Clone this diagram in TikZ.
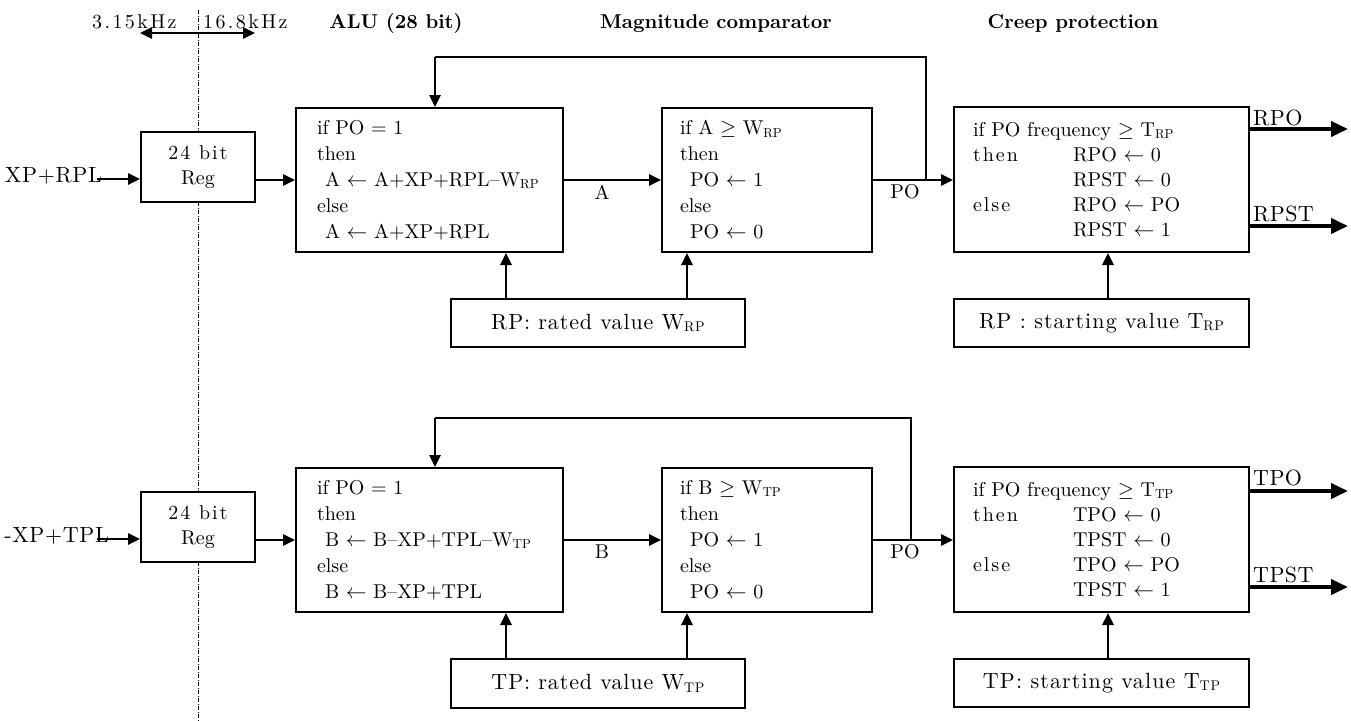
\documentclass[tikz,border=0pt]{standalone}
\usepackage{fontspec}
\setmainfont{lmroman10-regular}[Extension=.otf, BoldFont=lmroman10-bold]
\usetikzlibrary{arrows.meta,calc}
\newcommand{\sbs}[1]{\raisebox{-0.25ex}{\fontsize{13}{13}\selectfont #1}}
\newcommand{\sbb}[1]{\raisebox{-0.25ex}{\fontsize{14}{14}\selectfont\addfontfeature{LetterSpace=5}#1}}
\newcommand{\la}{$\leftarrow$}
\newcommand{\spc}[1]{{\addfontfeature{LetterSpace=10}#1}}
\begin{document}
\begin{tikzpicture}[x=1pt,y=-1pt,
  font=\fontsize{20}{26}\selectfont,
  box/.style={draw, line width=2pt, fill=white, inner sep=0pt, anchor=north west},
  arr/.style={line width=2.6pt, -{Triangle[length=12pt,width=11pt]}},
  outarr/.style={line width=4pt, -{Triangle[length=17pt,width=15pt]}},
  fb/.style={line width=1.8pt},
  lbl/.style={inner sep=0pt},
  wide/.style={font=\fontsize{20}{26}\selectfont\addfontfeature{LetterSpace=#1}},
  big/.style={font=\fontsize{22}{26}\selectfont\addfontfeature{LetterSpace=#1}},
  hdr/.style={inner sep=0pt, anchor=base, font=\fontsize{20}{26}\selectfont\bfseries}]
\useasboundingbox (0,0) rectangle (1351,720);

% clock boundary
\coordinate (dtop) at (198,10);
\coordinate (dbot) at (198,720);
\draw[line width=0.7pt, dash pattern=on 4pt off 1.5pt on 1pt off 1.5pt] (dtop) -- (dbot);

% headers
\node[lbl, anchor=base west, wide=12] (f1) at (92,28) {3.15kHz};
\node[lbl, anchor=base west, wide=12] (f2) at (203,28) {16.8kHz};
\coordinate (dA) at (140,33);
\coordinate (dB) at (255,33);
\draw[line width=2.6pt, {Triangle[length=12pt,width=11pt]}-{Triangle[length=12pt,width=11pt]}] (dA) -- (dB);
\node[hdr] (h1) at (396,28) {ALU (28 bit)};
\node[hdr] (h2) at (716,28) {Magnitude comparator};
\node[hdr] (h3) at (1073,28) {Creep protection};

% ================= top row =================
\node[box, minimum width=114, minimum height=70, align=center, font=\fontsize{20}{25}\selectfont] (regA) at (140,131) {\spc{24 bit}\\Reg};
\node[box, minimum width=267, minimum height=144, text width=225pt, inner xsep=21pt, align=left] (aluA) at (295,107)
 {if PO = 1\\then\\\hspace*{8pt}A \la\ A+XP+RPL--W\sbs{RP}\\else\\\hspace*{8pt}A \la\ A+XP+RPL};
\node[box, minimum width=210, minimum height=144, text width=174pt, inner xsep=18pt, align=left] (cmpA) at (661,107)
 {if A $\geq$ W\sbs{RP}\\then\\\hspace*{10pt}PO \la\ 1\\else\\\hspace*{10pt}PO \la\ 0};
\node[box, minimum width=295, minimum height=145, text width=257pt, inner xsep=19pt, align=left, font=\fontsize{20}{25}\selectfont] (crA) at (953,106)
 {if PO frequency $\geq$ T\sbs{RP}\\\makebox[100pt][l]{\spc{then}}RPO \la\ 0\\\makebox[100pt][l]{}RPST \la\ 0\\\makebox[100pt][l]{\spc{else}}RPO \la\ PO\\\makebox[100pt][l]{}RPST \la\ 1};
\node[box, minimum width=294, minimum height=48, big=4] (rtA) at (450,298) {RP: rated value W\sbb{RP}};
\node[box, minimum width=295, minimum height=48, big=5] (stA) at (953,298) {RP : starting value T\sbb{RP}};

\node[lbl, anchor=base east, big=3] (inlA) at (102,182) {XP+RPL};
\coordinate (inA) at (97,179);
\draw[arr] (inA) -- (inA -| regA.west);
\draw[arr] (regA.east |- aluA.west) -- (aluA.west);
\draw[arr] (aluA.east) -- (cmpA.west);
\node[lbl] (lA) at (602,192) {A};
\draw[arr] (cmpA.east) -- (cmpA.east -| crA.west);
\node[lbl] (lPOa) at (905,192) {PO};
\coordinate (fbA) at (926,179);
\coordinate (fcA) at (435,57);
\draw[fb] (fbA) |- (fcA);
\draw[arr] (fcA) -- (fcA |- aluA.north);
\coordinate (raA1) at (506,298);
\coordinate (raA2) at (687,298);
\draw[arr] (raA1 |- rtA.north) -- (raA1 |- aluA.south);
\draw[arr] (raA2 |- rtA.north) -- (raA2 |- cmpA.south);
\coordinate (saA) at (1108,298);
\draw[arr] (saA |- stA.north) -- (saA |- crA.south);
\coordinate (oA1) at ($(crA.north east)+(0,23)$);
\coordinate (oA2) at ($(crA.north east)+(0,120)$);
\draw[outarr] (oA1) -- ++(98,0);
\draw[outarr] (oA2) -- ++(98,0);
\node[lbl, anchor=base west, big=2] (lRPO) at (1253,125) {RPO};
\node[lbl, anchor=base west, big=2] (lRPST) at (1253,221) {RPST};

% ================= bottom row =================
\node[box, minimum width=114, minimum height=70, align=center, font=\fontsize{20}{25}\selectfont] (regB) at (140,491) {\spc{24 bit}\\Reg};
\node[box, minimum width=267, minimum height=144, text width=225pt, inner xsep=21pt, align=left] (aluB) at (295,467)
 {if PO = 1\\then\\\hspace*{8pt}B \la\ B--XP+TPL--W\sbs{TP}\\else\\\hspace*{8pt}B \la\ B--XP+TPL};
\node[box, minimum width=210, minimum height=144, text width=174pt, inner xsep=18pt, align=left] (cmpB) at (661,467)
 {if B $\geq$ W\sbs{TP}\\then\\\hspace*{10pt}PO \la\ 1\\else\\\hspace*{10pt}PO \la\ 0};
\node[box, minimum width=295, minimum height=145, text width=257pt, inner xsep=19pt, align=left, font=\fontsize{20}{25}\selectfont] (crB) at (953,466)
 {if PO frequency $\geq$ T\sbs{TP}\\\makebox[100pt][l]{\spc{then}}TPO \la\ 0\\\makebox[100pt][l]{}TPST \la\ 0\\\makebox[100pt][l]{\spc{else}}TPO \la\ PO\\\makebox[100pt][l]{}TPST \la\ 1};
\node[box, minimum width=294, minimum height=49, big=4] (rtB) at (450,658) {TP: rated value W\sbb{TP}};
\node[box, minimum width=295, minimum height=48, big=5] (stB) at (953,658) {TP: starting value T\sbb{TP}};

\node[lbl, anchor=base east, big=3] (inlB) at (109,542) {-XP+TPL};
\coordinate (inB) at (97,539);
\draw[arr] (inB) -- (inB -| regB.west);
\draw[arr] (regB.east |- aluB.west) -- (aluB.west);
\draw[arr] (aluB.east) -- (cmpB.west);
\node[lbl] (lB) at (602,552) {B};
\draw[arr] (cmpB.east) -- (cmpB.east -| crB.west);
\node[lbl] (lPOb) at (905,552) {PO};
\coordinate (fbB) at (911,539);
\coordinate (fcB) at (435,418);
\draw[fb] (fbB) |- (fcB);
\draw[arr] (fcB) -- (fcB |- aluB.north);
\coordinate (raB1) at (506,658);
\coordinate (raB2) at (687,658);
\draw[arr] (raB1 |- rtB.north) -- (raB1 |- aluB.south);
\draw[arr] (raB2 |- rtB.north) -- (raB2 |- cmpB.south);
\coordinate (saB) at (1108,658);
\draw[arr] (saB |- stB.north) -- (saB |- crB.south);
\coordinate (oB1) at ($(crB.north east)+(0,25)$);
\coordinate (oB2) at ($(crB.north east)+(0,121)$);
\draw[outarr] (oB1) -- ++(98,0);
\draw[outarr] (oB2) -- ++(98,0);
\node[lbl, anchor=base west, big=2] (lTPO) at (1253,485) {TPO};
\node[lbl, anchor=base west, big=2] (lTPST) at (1253,582) {TPST};
\end{tikzpicture}
\end{document}
